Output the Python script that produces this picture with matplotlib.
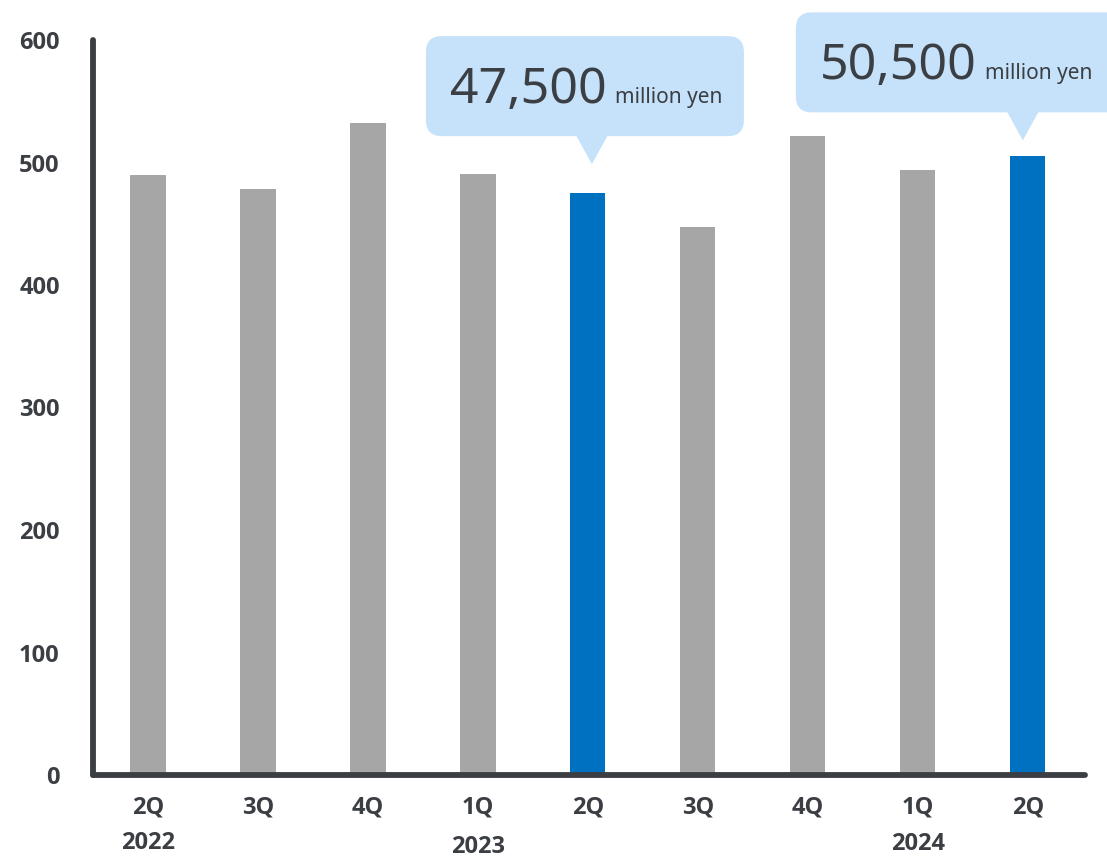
import matplotlib
matplotlib.use("Agg")
import matplotlib.pyplot as plt
import matplotlib.transforms as mtransforms
from matplotlib.patches import FancyBboxPatch, Polygon

plt.rcParams["font.family"] = ["Noto Sans", "DejaVu Sans"]
BOLD_FONT = ["Open Sans", "DejaVu Sans"]

quarters = ["2Q", "3Q", "4Q", "1Q", "2Q", "3Q", "4Q", "1Q", "2Q"]
sales = [490, 478, 532, 491, 475, 447, 522, 494, 505]
highlight = [False, False, False, False, True, False, False, False, True]
years = ["2022", "2023", "2024"]
year_pos = [0, 3, 7]
y_ticks = [0, 100, 200, 300, 400, 500, 600]
callout_idx = [4, 8]
callout_text = ["47,500", "50,500"]
callout_unit = "million yen"

GRAY = "#A6A6A6"
BLUE = "#0070C0"
BUBBLE = "#C5E2FA"
INK = "#3B3E43"

fig = plt.figure(figsize=(11.07, 8.57), dpi=100)
ax = fig.add_axes([93 / 1107, 82 / 857, 992 / 1107, 735 / 857])

colors = [BLUE if h else GRAY for h in highlight]
ax.bar(range(len(sales)), sales, width=0.32, color=colors, zorder=2)

ax.set_xlim(-0.5, 8.52)
ax.set_ylim(0, 600)
ax.set_yticks(y_ticks)
ax.set_yticklabels([str(v) for v in y_ticks], fontweight="bold", family=BOLD_FONT)
ax.set_xticks(range(len(quarters)))
ax.set_xticklabels(quarters, fontweight="bold", family=BOLD_FONT)
ax.tick_params(axis="y", length=0, pad=24, labelsize=17, labelcolor=INK)
ax.tick_params(axis="x", length=0, pad=15, labelsize=17, labelcolor=INK)

for side in ("top", "right"):
    ax.spines[side].set_visible(False)
for side in ("left", "bottom"):
    ax.spines[side].set_color(INK)
    ax.spines[side].set_linewidth(4.2)
    ax.spines[side].set_capstyle("round")

# year labels under the quarter ticks
ytrans = mtransforms.blended_transform_factory(ax.transData, ax.transAxes)
year_dy = [-0.093, -0.098, -0.094]
for yr, pos, dy in zip(years, year_pos, year_dy):
    ax.text(pos, dy, yr, transform=ytrans, ha="center", va="center",
            fontsize=17, fontweight="bold", family=BOLD_FONT, color=INK)

# speech-bubble callouts, geometry in pixels relative to the bar top
# (tip dx, lift above bar, box left, box width)
bubble_geom = [(4, 29, -162, 318), (-5, 16, -232, 340)]
box_h, tip_h, tip_half = 100, 28, 16
num_texts = []
for idx, txt, (tip_dx, lift, left, width) in zip(callout_idx, callout_text, bubble_geom):
    trans = mtransforms.ScaledTranslation(idx, sales[idx], ax.transData)
    base = lift + tip_h
    box = FancyBboxPatch((left, base), width, box_h,
                         boxstyle="round,pad=0,rounding_size=16",
                         transform=trans, facecolor=BUBBLE, edgecolor="none",
                         clip_on=False, zorder=3)
    tip = Polygon([(tip_dx - tip_half, base + 1), (tip_dx + tip_half, base + 1),
                   (tip_dx, lift)], closed=True, transform=trans,
                  facecolor=BUBBLE, edgecolor="none", clip_on=False, zorder=3)
    ax.add_patch(box)
    ax.add_patch(tip)
    t = ax.text(left + 24, base + 33, txt, transform=trans, ha="left",
                va="baseline", fontsize=36, color=INK, zorder=4, clip_on=False)
    num_texts.append((t, trans, base))

fig.canvas.draw()
renderer = fig.canvas.get_renderer()
for t, trans, base in num_texts:
    x1 = t.get_window_extent(renderer).x1
    x0 = trans.transform((0, 0))[0]
    ax.text(x1 - x0 + 8, base + 33, callout_unit, transform=trans, ha="left",
            va="baseline", fontsize=15, color=INK, zorder=4, clip_on=False)

fig.savefig("out.png", dpi=100)
